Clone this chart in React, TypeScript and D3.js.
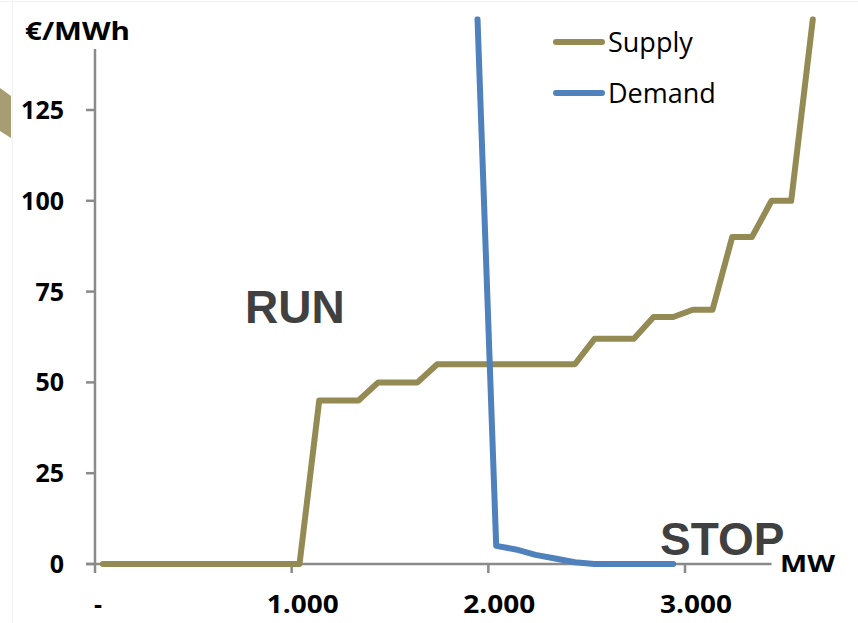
import React from "react";
import * as d3 from "d3";

// Supply curve (MW, €/MWh)
const supplyMW = [40, 1040, 1140, 1340, 1440, 1640, 1740, 2440, 2540, 2740, 2840, 2940, 3040, 3140, 3240, 3340, 3440, 3540, 3650];
const supplyPrice = [0, 0, 45, 45, 50, 50, 55, 55, 62, 62, 68, 68, 70, 70, 90, 90, 100, 100, 150];

// Demand curve (MW, €/MWh)
const demandMW = [1945, 2040, 2140, 2240, 2340, 2440, 2540, 2940];
const demandPrice = [150, 5, 4, 2.5, 1.5, 0.5, 0, 0];

const yTicks = [0, 25, 50, 75, 100, 125];
const xTicks = [0, 1000, 2000, 3000];
const xTickLabels = ["-", "1.000", "2.000", "3.000"];

const seriesNames = ["Supply", "Demand"];
const seriesColors = ["#948a54", "#4f81bd"];

const W = 858;
const H = 623;

export default function App() {
  const x = d3.scaleLinear().domain([0, 3000]).range([95, 685]);
  const y = d3.scaleLinear().domain([0, 125]).range([564, 110]);

  const supply = supplyMW.map((m, i) => [m, supplyPrice[i]] as [number, number]);
  const demand = demandMW.map((m, i) => [m, demandPrice[i]] as [number, number]);

  const line = d3
    .line<[number, number]>()
    .x((d) => x(d[0]))
    .y((d) => y(d[1]));

  const axisColor = "#8a8a8a";
  const tickFont = "'Open Sans', 'Noto Sans', sans-serif";
  const plotTop = y(150) - 3;

  return (
    <svg
      width={W}
      height={H}
      viewBox={`0 0 ${W} ${H}`}
      style={{ position: "absolute", left: 0, top: 0, background: "#fff" }}
    >
      <defs>
        <clipPath id="plot-clip">
          <rect x={x(0)} y={plotTop} width={W - x(0)} height={H - plotTop} />
        </clipPath>
      </defs>
      <rect x={0} y={0} width={W} height={H} fill="#fff" />

      {/* slide frame */}
      <line x1={0} x2={W} y1={1.5} y2={1.5} stroke="#f2f2f2" strokeWidth={1} />
      <line x1={12.5} x2={12.5} y1={0} y2={H} stroke="#f2f2f2" strokeWidth={1} />
      <polygon points="0,88 11,96 11,138 0,131" fill="#a69e72" />

      {/* y axis */}
      <line x1={x(0)} x2={x(0)} y1={y(0)} y2={y(150)} stroke={axisColor} strokeWidth={2.5} />
      {yTicks.map((t) => (
        <g key={`y${t}`}>
          <line x1={x(0) - 9} x2={x(0)} y1={y(t)} y2={y(t)} stroke={axisColor} strokeWidth={2.5} />
          <text
            x={64}
            y={y(t)}
            dy="0.36em"
            textAnchor="end"
            fontFamily={tickFont}
            fontWeight="bold"
            fontSize={25}
            fill="#000"
          >
            {t}
          </text>
        </g>
      ))}

      {/* x axis */}
      <line x1={x(0) - 9} x2={x(3440)} y1={y(0)} y2={y(0)} stroke={axisColor} strokeWidth={2.5} />
      {xTicks.map((t, i) => (
        <g key={`x${t}`}>
          <line x1={x(t)} x2={x(t)} y1={y(0)} y2={y(0) + 9} stroke={axisColor} strokeWidth={2.5} />
          <text
            x={x(t) + (i === 0 ? 3 : 11)}
            y={613}
            textAnchor="middle"
            fontFamily={tickFont}
            fontWeight="bold"
            fontSize={25}
            fill="#000"
            textLength={i === 0 ? undefined : 72}
            lengthAdjust="spacingAndGlyphs"
          >
            {xTickLabels[i]}
          </text>
        </g>
      ))}

      {/* curves */}
      <g clipPath="url(#plot-clip)" fill="none" strokeLinecap="round" strokeLinejoin="round">
        <path d={line(supply) ?? ""} stroke={seriesColors[0]} strokeWidth={6} />
        <path d={line(demand) ?? ""} stroke={seriesColors[1]} strokeWidth={6} />
      </g>

      {/* axis titles */}
      <rect x={20} y={12} width={115} height={37} fill="#fff" />
      <text
        x={25}
        y={40}
        fontFamily={tickFont}
        fontWeight="bold"
        fontSize={25}
        fill="#000"
        textLength={105}
        lengthAdjust="spacingAndGlyphs"
      >
        €/MWh
      </text>
      <text
        x={780}
        y={572}
        fontFamily={tickFont}
        fontWeight="bold"
        fontSize={24}
        fill="#000"
        textLength={55}
        lengthAdjust="spacingAndGlyphs"
      >
        MW
      </text>

      {/* region labels */}
      <text
        x={245}
        y={323}
        fontFamily="'Liberation Sans', Arial, sans-serif"
        fontWeight="bold"
        fontSize={46}
        fill="#404040"
      >
        RUN
      </text>
      <text
        x={660}
        y={555}
        fontFamily="'Liberation Sans', Arial, sans-serif"
        fontWeight="bold"
        fontSize={46}
        fill="#404040"
      >
        STOP
      </text>

      {/* legend */}
      {seriesNames.map((name, i) => {
        const ly = 42 + i * 51;
        return (
          <g key={name}>
            <line
              x1={556}
              x2={602}
              y1={ly}
              y2={ly}
              stroke={seriesColors[i]}
              strokeWidth={6}
              strokeLinecap="round"
            />
            <text
              x={608}
              y={ly + 10}
              fontFamily={tickFont}
              fontSize={27}
              fill="#000"
            >
              {name}
            </text>
          </g>
        );
      })}
    </svg>
  );
}
